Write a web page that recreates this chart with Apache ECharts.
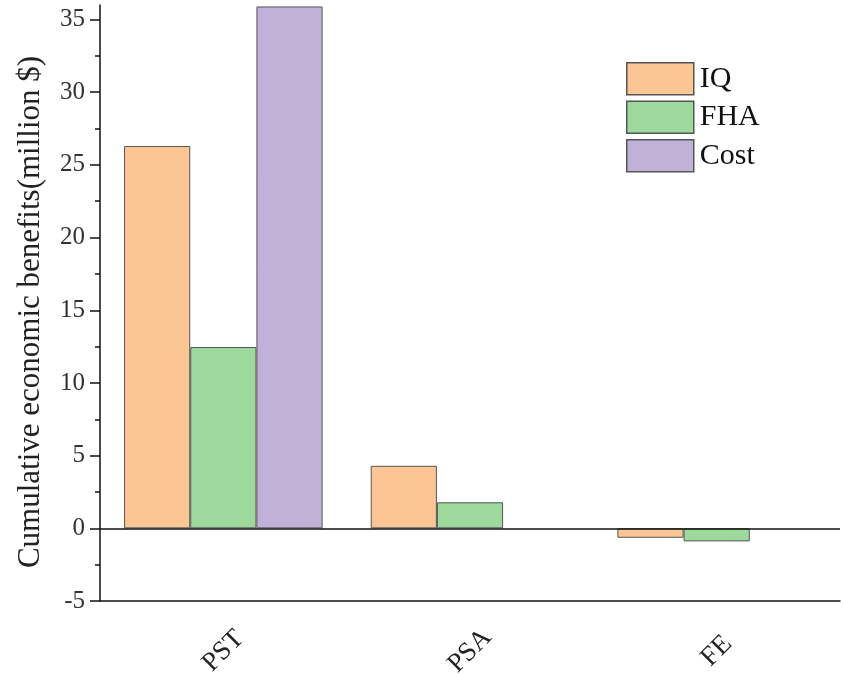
<!DOCTYPE html>
<html><head><meta charset="utf-8">
<script src="https://cdn.jsdelivr.net/npm/echarts@6/dist/echarts.min.js"></script>
<style>html,body{margin:0;padding:0;background:#fff}#c{width:843px;height:674px}</style>
</head><body><div id="c"></div>
<script>
const categories = ['PST', 'PSA', 'FE'];
const iqValues = [26.3, 4.3, -0.65];
const fhaValues = [12.47, 1.79, -0.9];
const costValues = [35.9, null, null];
const yMajorTicks = [-5, 0, 5, 10, 15, 20, 25, 30, 35];
const yMinorTicks = [-2.5, 2.5, 7.5, 12.5, 17.5, 22.5, 27.5, 32.5];

const font = 'Liberation Serif, Times New Roman, serif';
const border = {borderColor: '#555', borderWidth: 1};
const chart = echarts.init(document.getElementById('c'));
chart.setOption({
  animation: false,
  grid: {left: 100, right: 3, top: 5, bottom: 73, containLabel: false, outerBoundsMode: 'none'},
  legend: {
    orient: 'vertical', left: 621, top: 57, icon: 'rect',
    itemWidth: 67, itemHeight: 32, itemGap: 5,
    textStyle: {fontFamily: font, fontSize: 30, color: '#111', padding: [0, 0, 0, 1]},
    itemStyle: {borderColor: '#555', borderWidth: 1.5},
    data: ['IQ', 'FHA', 'Cost']
  },
  xAxis: {
    type: 'category', data: categories,
    axisLine: {onZero: false, lineStyle: {color: '#111', width: 1.5}},
    axisTick: {alignWithLabel: true, length: 12, lineStyle: {color: '#111', width: 1.5}},
    axisLabel: {rotate: 45, align: 'center', verticalAlign: 'middle', margin: 50,
      fontFamily: font, fontSize: 27, color: '#222'},
    splitLine: {show: false}
  },
  yAxis: [{
    type: 'value', min: -5, max: 36,
    name: 'Cumulative economic benefits(million $)',
    nameLocation: 'middle', nameGap: 54,
    nameTextStyle: {fontFamily: font, fontSize: 31, color: '#222', padding: [0, 18, 0, 0]},
    axisLine: {show: true, lineStyle: {color: '#111', width: 1.5}},
    axisTick: {show: true, length: 10, customValues: yMajorTicks, lineStyle: {color: '#111', width: 1.5}},
    axisLabel: {customValues: yMajorTicks, margin: 15, fontFamily: font, fontSize: 25, color: '#333'},
    splitLine: {show: false}
  }, {
    type: 'value', min: -5, max: 36, position: 'left',
    axisLine: {show: false},
    axisTick: {show: true, length: 5, customValues: yMinorTicks, lineStyle: {color: '#111', width: 1.5}},
    axisLabel: {show: false},
    splitLine: {show: false}
  }],
  series: [{
    name: 'IQ', type: 'bar', data: iqValues, barGap: '0%', barCategoryGap: '19.5%',
    itemStyle: Object.assign({color: '#FCC694'}, border),
    markLine: {silent: true, symbol: 'none', label: {show: false},
      lineStyle: {color: '#111', type: 'solid', width: 1.5}, data: [{yAxis: 0}]}
  }, {
    name: 'FHA', type: 'bar', data: fhaValues, barGap: '0%', barCategoryGap: '19.5%',
    itemStyle: Object.assign({color: '#9DD89D'}, border)
  }, {
    name: 'Cost', type: 'bar', data: costValues, barGap: '0%', barCategoryGap: '19.5%',
    itemStyle: Object.assign({color: '#C1B0D7'}, border)
  }]
});
</script></body></html>
